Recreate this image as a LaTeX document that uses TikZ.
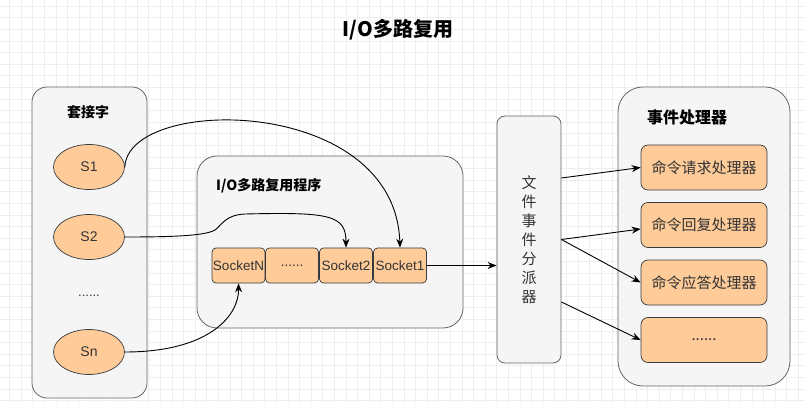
\documentclass[tikz,border=0pt]{standalone}
\usepackage{fontspec}
\setmainfont{Liberation Sans}
\newfontfamily\cjk{Noto Sans CJK SC}
\usetikzlibrary{arrows.meta,shapes.geometric}
\definecolor{boxfill}{HTML}{F5F5F5}
\definecolor{boxline}{HTML}{666666}
\definecolor{orangefill}{HTML}{FFCC99}
\definecolor{orangeline}{HTML}{36393D}
\definecolor{gridline}{HTML}{EEEEEE}
\definecolor{textdark}{HTML}{333333}

\begin{document}
\begin{tikzpicture}[x=1pt,y=-1pt,
    group/.style={draw=boxline,fill=boxfill,line width=0.8pt,inner sep=0pt},
    sock/.style={ellipse,draw=orangeline,fill=orangefill,line width=0.7pt,minimum width=71pt,minimum height=45pt,inner sep=0pt,text=textdark,font=\fontsize{14}{16}\selectfont},
    slot/.style={draw=orangeline,fill=orangefill,line width=0.7pt,rounded corners=4pt,minimum width=53pt,minimum height=35pt,inner sep=0pt,text=textdark,font=\fontsize{13.5}{15}\selectfont},
    handler/.style={draw=orangeline,fill=orangefill,line width=0.7pt,rounded corners=7pt,minimum width=126pt,minimum height=45pt,inner sep=0pt,text=textdark,font=\cjk\fontsize{15}{17}\selectfont},
    heading/.style={font=\cjk\bfseries\fontsize{14}{16}\selectfont},
    link/.style={-{Stealth[length=9pt,width=7pt]},line width=0.9pt}]
    \useasboundingbox (0,0) rectangle (805,403);
    \fill[white] (0,0) rectangle (805,403);
    % grid
    \foreach \i in {0,...,69} \draw[gridline] ({9.3+11.6*\i},0) -- ++(0,403);
    \foreach \j in {0,...,34} \draw[gridline] (0,{6+11.6*\j}) -- ++(805,0);
    \node[font=\cjk\bfseries\fontsize{20}{24}\selectfont] (title) at (398,30) {I/O多路复用};
    % containers
    \node[group,rounded corners=15pt,minimum width=115pt,minimum height=311pt] (sockets) at (89.5,242.5) {};
    \node[group,rounded corners=20pt,minimum width=266pt,minimum height=172pt] (mux) at (330,242) {};
    \node[group,rounded corners=8pt,minimum width=64pt,minimum height=247pt,align=center,text=textdark,font=\cjk\fontsize{15}{19}\selectfont] (disp) at (529,239.5) {文\\件\\事\\件\\分\\派\\器};
    \node[group,rounded corners=25pt,minimum width=172pt,minimum height=299pt] (handlers) at (704,236.5) {};
    \node[heading] (socklabel) at (88,112) {套接字};
    \node[heading,anchor=west,inner sep=0pt] (muxlabel) at (216,186) {I/O多路复用程序};
    \node[heading,font=\cjk\bfseries\fontsize{16}{18}\selectfont] (handlerlabel) at (687,117) {事件处理器};
    % sockets
    \node[sock] (s1) at (89,167) {S1};
    \node[sock] (s2) at (89,237) {S2};
    \node[text=textdark,font=\fontsize{13}{15}\selectfont] (sdots) at (89,296) {......};
    \node[sock] (sn) at (89,352) {Sn};
    % queue
    \node[slot] (slotN) at (238.5,265.5) {SocketN};
    \node[slot] (slotdots) at (292,265.5) {......};
    \node[slot] (slot2) at (346,265.5) {Socket2};
    \node[slot] (slot1) at (400,265.5) {Socket1};
    % handlers
    \node[handler] (h1) at (704,167.5) {命令请求处理器};
    \node[handler] (h2) at (704,225) {命令回复处理器};
    \node[handler] (h3) at (704,282.5) {命令应答处理器};
    \node[handler] (h4) at (704,340) {......};
    % connectors
    \draw[link] (s1.east) .. controls (128,95) and (395,95) .. (slot1.north);
    \draw[link] (s2.east) .. controls (170,237) and (205,236) .. (215,230)
        .. controls (222,225) and (225,215) .. (245,214)
        .. controls (330,212) and (346,215) .. (slot2.north);
    \draw[link] (sn.east) .. controls (210,352) and (239,315) .. (slotN.south);
    \draw[link] (slot1.east) -- (slot1.east -| disp.west);
    \draw[link] ([yshift=61.5pt]disp.east) -- (h1.west);
    \draw[link] (disp.east) -- ([yshift=-4pt]h2.west);
    \draw[link] (disp.east) -- (h3.west);
    \draw[link] ([yshift=-62.5pt]disp.east) -- (h4.west);
\end{tikzpicture}
\end{document}
